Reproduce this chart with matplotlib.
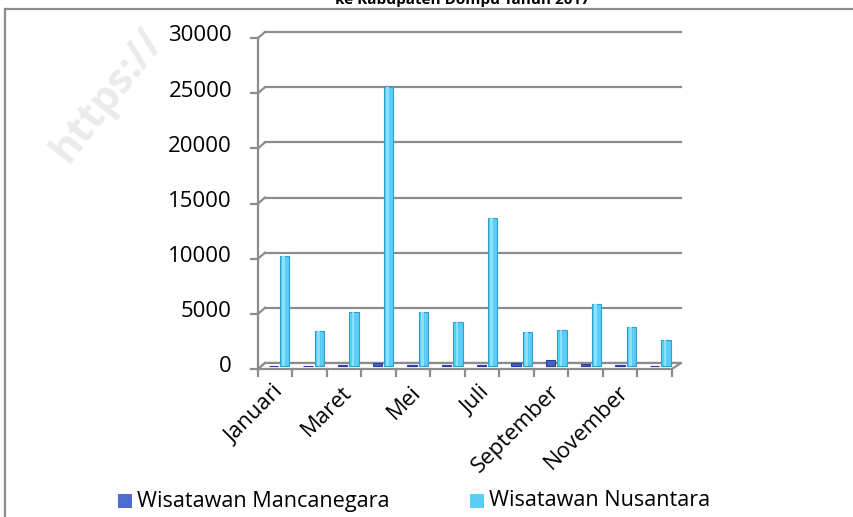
import numpy as np
import matplotlib
matplotlib.use('Agg')
import matplotlib.pyplot as plt
from matplotlib.patches import Rectangle, Polygon
from matplotlib.lines import Line2D

plt.rcParams['font.family'] = ['Open Sans', 'DejaVu Sans']

# data
bulan = ['Januari', 'Februari', 'Maret', 'April', 'Mei', 'Juni', 'Juli',
         'Agustus', 'September', 'Oktober', 'November', 'Desember']
mancanegara = [40, 20, 90, 250, 80, 110, 90, 230, 580, 180, 120, 30]
nusantara = [10000, 3200, 4900, 25300, 4850, 3950, 13450, 3100, 3300, 5600, 3550, 2400]
y_ticks = [0, 5000, 10000, 15000, 20000, 25000, 30000]
judul = 'ke Kabupaten Dompu Tahun 2017'
seri = ['Wisatawan Mancanegara', 'Wisatawan Nusantara']

W, H = 854, 517
fig = plt.figure(figsize=(W / 100, H / 100), dpi=100)

# faint watermark (behind everything)
fig.text(108 / W, 1 - 95 / H, 'https://', rotation=52, ha='center', va='center',
         fontsize=30, fontweight='bold', color='#ebebeb', zorder=-5)

# back wall of the 3d chart (pixels)
x0, x1, ytop, ybot = 265, 681, 32, 363
ax = fig.add_axes([x0 / W, 1 - ybot / H, (x1 - x0) / W, (ybot - ytop) / H])
n = len(bulan)
ax.set_xlim(-0.5, n - 0.5)
ax.set_ylim(0, 30000)
ax.axis('off')

px_x = (n) / (x1 - x0)          # data units per pixel
px_y = 30000 / (ybot - ytop)
dx, dy = 7 * px_x, 6 * px_y     # depth offset of the front plane
fs = 16

grid_c = '#8c8c8c'
# gridlines on back wall
for v in y_ticks:
    ax.plot([-0.5, n - 0.5], [v, v], color=grid_c, lw=1.6, clip_on=False, zorder=1)
    # connector from front axis to back wall
    ax.plot([-0.5 - dx, -0.5], [v - dy, v], color=grid_c, lw=1.6, clip_on=False, zorder=1)
    # tick mark on front axis
    ax.plot([-0.5 - dx - 7 * px_x, -0.5 - dx], [v - dy, v - dy], color=grid_c, lw=1.6,
            clip_on=False, zorder=1)
    ax.text(-0.5 - dx - 26 * px_x, v - dy + 2 * px_y, str(v), ha='right', va='center',
            fontsize=fs, color='black')

# floor
floor = Polygon([[-0.5, 0], [n - 0.5, 0], [n - 0.5 - 1.3 * dx, -dy], [-0.5 - dx, -dy]],
                closed=True, facecolor='white', edgecolor=grid_c, lw=1.6, clip_on=False, zorder=2)
ax.add_patch(floor)
# front vertical axis
ax.plot([-0.5 - dx, -0.5 - dx], [-dy, 30000 - dy], color=grid_c, lw=1.6, clip_on=False, zorder=3)
# x ticks
x_front = np.linspace(-0.5 - dx, n - 0.5 - 1.3 * dx, n + 1)
for xf in x_front:
    ax.plot([xf, xf], [-dy, -dy - 7 * px_y], color=grid_c, lw=1.6, clip_on=False, zorder=3)

# bars in middle depth
xs = np.arange(n)
off_x, off_y = -3.5 * px_x, -3 * px_y
bw = 0.27
ax.bar(xs - 0.16 + off_x, mancanegara, width=bw, bottom=off_y, color='#4560c8',
       edgecolor='#2b3f9e', lw=0.8, zorder=4, clip_on=False)
ax.bar(xs + 0.17 + off_x, nusantara, width=bw, bottom=off_y, color='#5ccdf6',
       edgecolor='#2f9fcc', lw=0.8, zorder=4, clip_on=False)
# highlight strip on the cylinders
ax.bar(xs + 0.17 + off_x - 0.03, nusantara, width=0.07, bottom=off_y, color='#8be0fb',
       lw=0, zorder=5, clip_on=False)

# category labels (every second month)
for i in range(0, n, 2):
    xc = x_front[i] + (x_front[i + 1] - x_front[i]) / 2 + 5 * px_x
    ax.text(xc, -dy - 20 * px_y, bulan[i], rotation=45, ha='right', va='center',
            rotation_mode='anchor', fontsize=fs, color='black')

# title (cut at top of picture)
fig.text(462 / W, 1 - 7 / H, judul, ha='center', va='bottom', fontsize=11,
         fontweight='bold', color='black')

# chart border
fig.add_artist(Line2D([5 / W, 5 / W], [0, 1 - 9 / H], color='#8c8c8c', lw=1.6))
fig.add_artist(Line2D([5 / W, 1], [1 - 9 / H, 1 - 9 / H], color='#8c8c8c', lw=1.6))

# legend
warna = ['#4f6bd0', '#5ccdf6']
leg_x = [118, 470]
for lx, nama, c in zip(leg_x, seri, warna):
    fig.add_artist(Rectangle((lx / W, 1 - 508 / H), 14 / W, 14 / H, facecolor=c,
                             edgecolor='none', transform=fig.transFigure))
    fig.text((lx + 19) / W, 1 - 501 / H, nama, ha='left', va='center', fontsize=15.6)

fig.savefig('out.png', dpi=100)
